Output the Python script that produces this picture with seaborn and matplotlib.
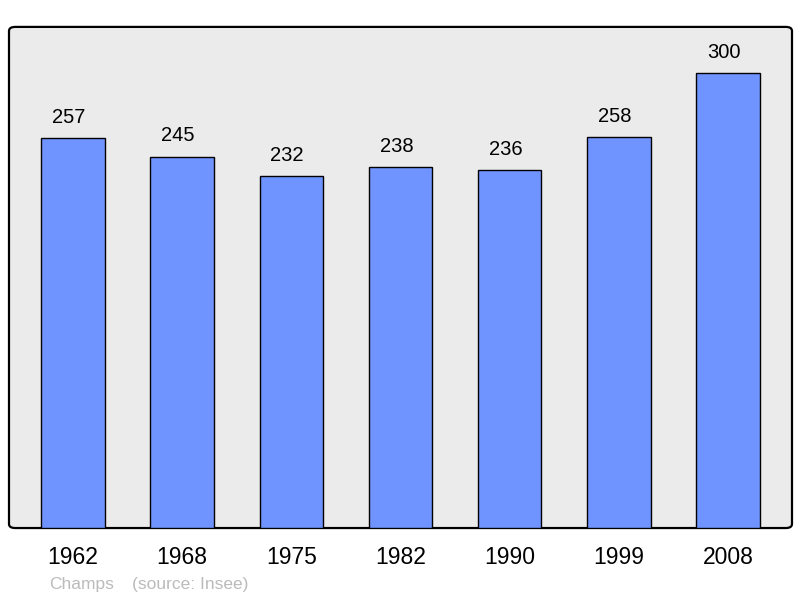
import matplotlib.pyplot as plt
import seaborn as sns
import pandas as pd
from matplotlib.patches import FancyBboxPatch

years = ["1962", "1968", "1975", "1982", "1990", "1999", "2008"]
population = [257, 245, 232, 238, 236, 258, 300]
commune = "Champs"
source = "(source: Insee)"

df = pd.DataFrame({"year": years, "pop": population})

sns.set_style("white")
plt.rcParams["font.family"] = ["Liberation Sans", "DejaVu Sans"]

fig = plt.figure(figsize=(8, 5.98), dpi=100)
ax = fig.add_axes([0.01125, 0.117, 0.97875, 0.838])
ax.set_facecolor("none")

# cadre gris arrondi
frame = FancyBboxPatch((0, 0), 1, 1,
                       boxstyle="round,pad=0,rounding_size=0.008",
                       transform=ax.transAxes, facecolor="#ebebeb",
                       edgecolor="black", linewidth=1.6, zorder=0,
                       clip_on=False)
ax.add_patch(frame)

sns.barplot(df, x="year", y="pop", color="#7094ff", saturation=1,
            width=0.58, edgecolor="black", linewidth=1, ax=ax, zorder=2)

for i, v in enumerate(population):
    ax.annotate(str(v), (i, v), xytext=(-3, 8), textcoords="offset points",
                ha="center", va="bottom", fontsize=14.5, color="black")

ax.set_xlim(-0.585, 6.585)
ax.set_ylim(0, 330.5)
ax.set_xlabel("")
ax.set_ylabel("")
ax.set_yticks([])
ax.tick_params(axis="x", length=0, pad=13, labelsize=16.5, labelcolor="black")
for s in ax.spines.values():
    s.set_visible(False)

fig.text(49 / 800, 1 - 585 / 598, commune, color="#bbbbbb", fontsize=12.5, va="center")
fig.text(132 / 800, 1 - 585 / 598, source, color="#bbbbbb", fontsize=12.5, va="center")

fig.savefig("out.png", dpi=100)
